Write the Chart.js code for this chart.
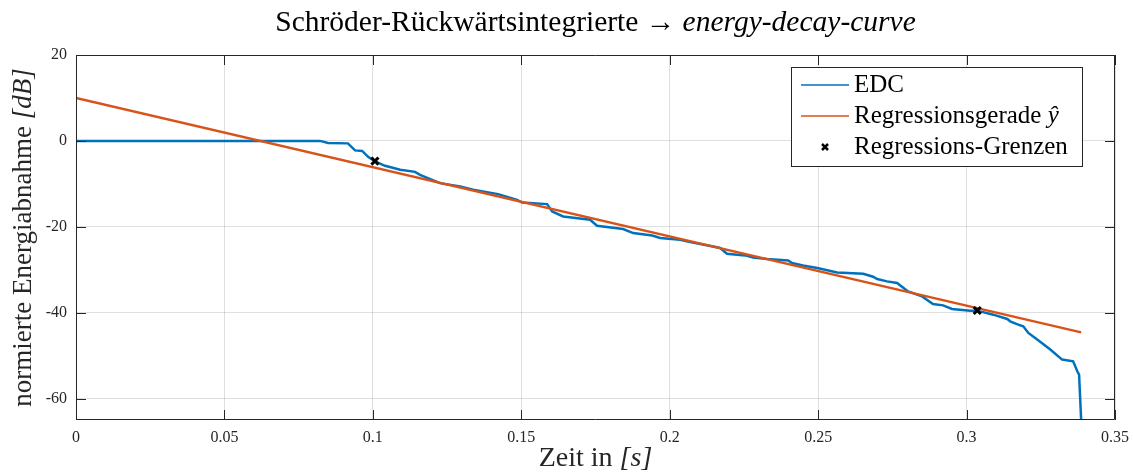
<!DOCTYPE html>
<html>
<head>
<meta charset="utf-8">
<script src="https://cdn.jsdelivr.net/npm/chart.js@4.4.0/dist/chart.umd.min.js"></script>
<style>
  html, body { margin: 0; padding: 0; background: #fff; }
  #wrap { width: 1133px; height: 473px; }
</style>
</head>
<body>
<div id="wrap"><canvas id="edc-chart"></canvas></div>
<script>
// Schroeder backward integral, time in s and level in dB
const edcTime = [
  0, 0.0822, 0.0849, 0.0916, 0.0940, 0.0964, 0.0984, 0.1007, 0.1041, 0.1092,
  0.1142, 0.1159, 0.1226, 0.1294, 0.1338, 0.1422, 0.1486, 0.1503, 0.1587, 0.1604,
  0.1641, 0.1732, 0.1755, 0.1843, 0.1877, 0.1941, 0.1968, 0.2035, 0.2069, 0.2146,
  0.2170, 0.2193, 0.2254, 0.2281, 0.2328, 0.2399, 0.2412, 0.2449, 0.2497, 0.2564,
  0.2652, 0.2685, 0.2699, 0.2732, 0.2766, 0.2803, 0.2850, 0.2887, 0.2921, 0.2951,
  0.3012, 0.3036, 0.3090, 0.3137, 0.3147, 0.3174, 0.3191, 0.3208, 0.3238, 0.3282,
  0.3322, 0.3359, 0.3373, 0.3379, 0.3386
];
const edcLevel = [
  0, 0, -0.47, -0.58, -2.21, -2.33, -3.72, -4.77, -5.81, -6.74,
  -7.21, -7.91, -9.84, -10.63, -11.40, -12.40, -13.72, -14.35, -14.72, -16.44,
  -17.60, -18.37, -19.77, -20.53, -21.47, -22.02, -22.63, -23.02, -23.56, -24.58,
  -24.95, -26.28, -26.67, -27.14, -27.51, -27.84, -28.44, -29.00, -29.60, -30.63,
  -30.93, -31.63, -32.16, -32.72, -33.09, -35.05, -36.21, -37.98, -38.30, -39.14,
  -39.53, -39.53, -40.47, -41.47, -42.02, -42.79, -43.19, -44.72, -46.28, -48.60,
  -50.93, -51.33, -53.65, -54.42, -65
];

// regression line y-hat
const fitTime = [0, 0.3386];
const fitLevel = [10, -44.6];

// limits of the regression range
const limitTime = [0.1007, 0.3036];
const limitLevel = [-4.7, -39.5];

const xTicks = [0, 0.05, 0.1, 0.15, 0.2, 0.25, 0.3, 0.35];
const yTicks = [-60, -40, -20, 0, 20];

const SERIF = "'Liberation Serif', 'DejaVu Serif', serif";
const INK = "#262626";

function toPoints(xs, ys) {
  return xs.map((x, i) => ({ x: x, y: ys[i] }));
}

// draw a line of text made of normal and italic pieces
function drawParts(ctx, parts, x, y, size, align) {
  const fonts = parts.map(p => (p.italic ? "italic " : "") + size + "px " + SERIF);
  let total = 0;
  parts.forEach((p, i) => { ctx.font = fonts[i]; total += ctx.measureText(p.text).width; });
  let pos = align === "left" ? x : x - total / 2;
  ctx.textAlign = "left";
  ctx.textBaseline = "middle";
  parts.forEach((p, i) => {
    ctx.font = fonts[i];
    ctx.fillText(p.text, pos, y);
    pos += ctx.measureText(p.text).width;
  });
}

const decorations = {
  id: "decorations",
  afterDraw(chart) {
    const ctx = chart.ctx;
    const area = chart.chartArea;
    const xs = chart.scales.x;
    const ys = chart.scales.y;
    const tickLen = 10;
    ctx.save();

    // box and inward ticks
    ctx.strokeStyle = INK;
    ctx.lineWidth = 1;
    ctx.beginPath();
    ctx.rect(area.left + 0.5, area.top + 0.5, area.right - area.left - 1, area.bottom - area.top - 1);
    xTicks.forEach(v => {
      const px = Math.round(xs.getPixelForValue(v)) + 0.5;
      ctx.moveTo(px, area.bottom); ctx.lineTo(px, area.bottom - tickLen);
      ctx.moveTo(px, area.top); ctx.lineTo(px, area.top + tickLen);
    });
    yTicks.forEach(v => {
      const py = Math.round(ys.getPixelForValue(v)) + 0.5;
      ctx.moveTo(area.left, py); ctx.lineTo(area.left + tickLen, py);
      ctx.moveTo(area.right, py); ctx.lineTo(area.right - tickLen, py);
    });
    ctx.stroke();

    ctx.fillStyle = "#000";
    const cx = (area.left + area.right) / 2;
    const cy = (area.top + area.bottom) / 2;

    // title
    drawParts(ctx, [
      { text: "Schröder-Rückwärtsintegrierte \u2192 " },
      { text: "energy-decay-curve", italic: true }
    ], cx, 23, 29.5, "center");

    // x axis title
    ctx.fillStyle = INK;
    drawParts(ctx, [{ text: "Zeit in " }, { text: "[s]", italic: true }], cx, 459, 28, "center");

    // y axis title
    ctx.save();
    ctx.translate(24, cy);
    ctx.rotate(-Math.PI / 2);
    drawParts(ctx, [{ text: "normierte Energiabnahme " }, { text: "[dB]", italic: true }], 0, 0, 27, "center");
    ctx.restore();

    // legend
    const lx = 791, ly = 67, lw = 291, lh = 99;
    ctx.fillStyle = "#fff";
    ctx.fillRect(lx, ly, lw, lh);
    ctx.strokeStyle = INK;
    ctx.lineWidth = 1;
    ctx.strokeRect(lx + 0.5, ly + 0.5, lw, lh);
    const rows = [
      { kind: "line", color: "#0072BD", parts: [{ text: "EDC" }] },
      { kind: "line", color: "#D95319", parts: [{ text: "Regressionsgerade " }, { text: "\u0177", italic: true }] },
      { kind: "mark", color: "#000", parts: [{ text: "Regressions-Grenzen" }] }
    ];
    rows.forEach((r, i) => {
      const ry = 85 + i * 31;
      if (r.kind === "line") {
        ctx.strokeStyle = r.color;
        ctx.lineWidth = 1.5;
        ctx.beginPath();
        ctx.moveTo(801, ry); ctx.lineTo(849, ry);
        ctx.stroke();
      } else {
        ctx.strokeStyle = r.color;
        ctx.lineWidth = 2.5;
        ctx.beginPath();
        ctx.moveTo(822, ry - 3); ctx.lineTo(828, ry + 3);
        ctx.moveTo(828, ry - 3); ctx.lineTo(822, ry + 3);
        ctx.stroke();
      }
      ctx.fillStyle = "#000";
      drawParts(ctx, r.parts, 854, ry, 25, "left");
    });

    ctx.restore();
  }
};

function createChart(ctx) {
  const tickFont = { family: SERIF, size: 16 };
  const gridColor = "rgba(38,38,38,0.15)";

  const options = {
    responsive: false,
    animation: false,
    layout: { padding: { top: 55, right: 18, left: 0, bottom: 0 } },
    scales: {
      x: {
        type: "linear",
        min: 0,
        max: 0.35,
        border: { display: false },
        grid: { color: gridColor, drawTicks: false },
        ticks: { font: tickFont, color: INK, padding: 8, maxRotation: 0, callback: v => String(v) },
        afterBuildTicks: scale => { scale.ticks = xTicks.map(v => ({ value: v })); },
        afterFit: scale => {
          scale.height = 53;
          scale.paddingLeft = 0;
          scale.paddingRight = 0;
        },
      },
      y: {
        type: "linear",
        min: -65,
        max: 20,
        border: { display: false },
        grid: { color: gridColor, drawTicks: false },
        ticks: { font: tickFont, color: INK, padding: 9, callback: v => String(v) },
        afterBuildTicks: scale => { scale.ticks = yTicks.map(v => ({ value: v })); },
        afterFit: scale => {
          scale.width = 76;
          scale.paddingTop = 0;
          scale.paddingBottom = 0;
        },
      },
    },
    plugins: {
      legend: { display: false },
      tooltip: { enabled: false },
    },
  };

  return new Chart(ctx, {
    type: "scatter",
    data: {
      datasets: [
        {
          label: "EDC",
          data: toPoints(edcTime, edcLevel),
          showLine: true,
          borderColor: "#0072BD",
          borderWidth: 2.5,
          pointRadius: 0,
          order: 3,
        },
        {
          label: "Regressionsgerade",
          data: toPoints(fitTime, fitLevel),
          showLine: true,
          borderColor: "#D95319",
          borderWidth: 2.5,
          pointRadius: 0,
          order: 2,
        },
        {
          label: "Regressions-Grenzen",
          data: toPoints(limitTime, limitLevel),
          showLine: false,
          pointStyle: "crossRot",
          pointRadius: 5,
          borderColor: "#000",
          borderWidth: 3,
          order: 1,
        },
      ],
    },
    options: options,
    plugins: [decorations],
  });
}

const canvas = document.getElementById("edc-chart");
canvas.width = 1133;
canvas.height = 473;
createChart(canvas.getContext("2d"));
</script>
</body>
</html>
